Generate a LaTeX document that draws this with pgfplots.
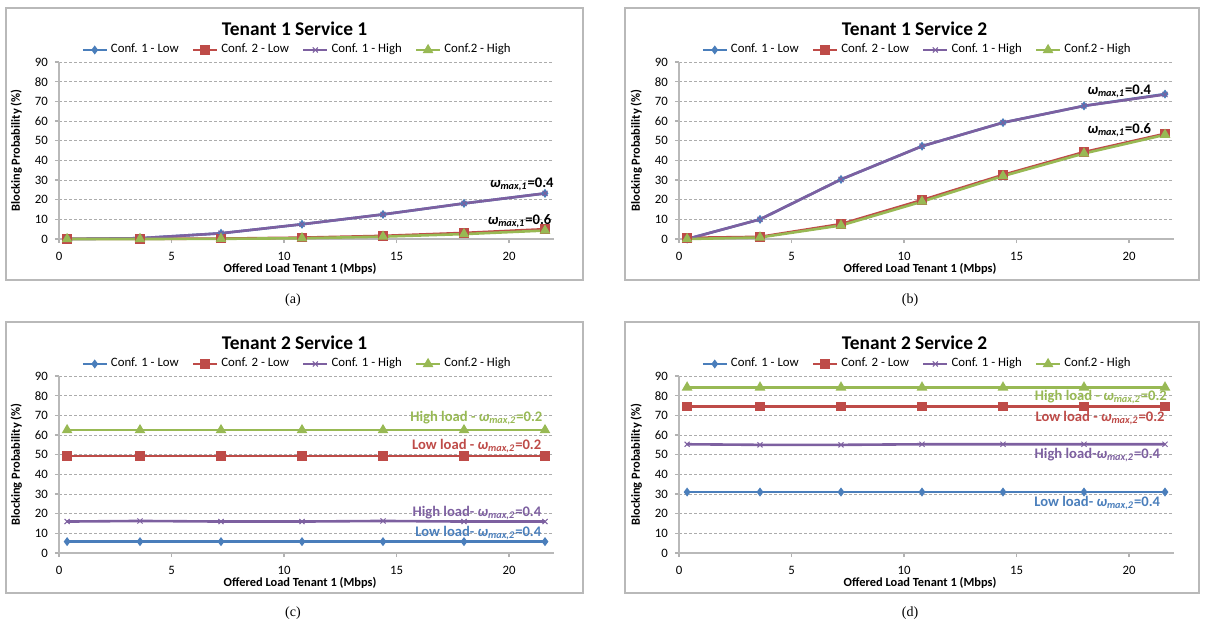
\documentclass[border=0pt]{standalone}
\usepackage{fontspec}
\setmainfont{Carlito}
\newfontfamily\capfont{Liberation Serif}
\usepackage{pgfplots}
\pgfplotsset{compat=1.18}
\definecolor{cblue}{HTML}{4A7EBB}
\definecolor{cred}{HTML}{BE4B48}
\definecolor{cpurple}{HTML}{7D60A0}
\definecolor{cgreen}{HTML}{98B954}
\newcommand{\om}[1]{\textit{ω}\textsubscript{\textit{max,#1}}}
\tikzset{ann/.style={font=\fontsize{7.3}{8}\selectfont\bfseries, anchor=east, inner sep=0pt},
  ttl/.style={font=\fontsize{9.7}{11}\selectfont\bfseries, anchor=center, inner sep=0pt}}
\pgfplotsset{
  myax/.style={
    scale only axis, width=247.5pt, height=88.5pt,
    anchor=south west,
    xmin=0, xmax=22, ymin=0, ymax=90,
    xtick={0,5,...,20}, ytick={0,10,...,90},
    axis x line*=bottom, axis y line*=left,
    axis line style={gray!55,-,line width=0.7pt},
    tick style={gray!60,line width=0.6pt},
    tick align=outside, major tick length=2pt,
    ymajorgrids, grid style={gray!65, dash pattern=on 1.5pt off 1pt, line width=0.4pt},
    ticklabel style={font=\fontsize{6.4}{7}\selectfont},
    xticklabel style={yshift=-1pt},
    /pgf/number format/assume math mode=true,
    xlabel={Offered Load Tenant 1 (Mbps)},
    ylabel={Blocking Probability (\%)},
    label style={font=\fontsize{6.2}{7}\selectfont\bfseries},
    xlabel style={at={(axis description cs:0.487,-0.17)}, anchor=center},
    ylabel style={at={(axis description cs:-0.086,0.5)}, anchor=center},
    legend columns=4,
    legend style={draw=none, fill=none, at={(axis description cs:0.482,1.068)}, anchor=center,
      font=\fontsize{6.4}{7}\selectfont, /tikz/every even column/.append style={column sep=5pt},
      /tikz/every odd column/.append style={column sep=0pt}, nodes={inner xsep=1.5pt}},
    legend image code/.code={\draw[mark repeat=2,mark phase=2] plot coordinates {(0cm,0cm) (0.21cm,0cm) (0.42cm,0cm)};},
    clip=false,
    every axis plot/.append style={line width=1.3pt},
  },
  sb/.style={cblue, mark=diamond*, mark size=1.2pt, mark options={solid}},
  sr/.style={cred, mark=square*, mark size=1.7pt},
  sp/.style={cpurple, mark=x, mark size=1.8pt, mark options={line width=0.5pt}},
  sg/.style={cgreen, mark=triangle*, mark size=1.8pt},
}
\begin{document}
\begin{tikzpicture}
\useasboundingbox (0,0) rectangle (603pt,-311.5pt);
% frames
\draw[gray!55, line width=0.6pt] (3pt,-4pt) rectangle (291.5pt,-140pt);
\draw[gray!55, line width=0.6pt] (312.5pt,-4pt) rectangle (599.5pt,-140pt);
\draw[gray!55, line width=0.6pt] (3pt,-161pt) rectangle (291.5pt,-296.5pt);
\draw[gray!55, line width=0.6pt] (312.5pt,-161pt) rectangle (599.5pt,-296.5pt);
% captions
\node[font=\capfont\fontsize{7}{8}\selectfont] at (146.5pt,-150pt) {(a)};
\node[font=\capfont\fontsize{7}{8}\selectfont] at (455pt,-150pt) {(b)};
\node[font=\capfont\fontsize{7}{8}\selectfont] at (146.5pt,-306.5pt) {(c)};
\node[font=\capfont\fontsize{7}{8}\selectfont] at (455pt,-306.5pt) {(d)};

% (a)
\begin{axis}[myax, at={(29.5pt,-119.5pt)}]
\addplot[sb] coordinates {(0.36,0) (3.6,0.4) (7.2,2.9) (10.8,7.5) (14.4,12.5) (18,18.1) (21.6,23.2)};
\addlegendentry{Conf. 1 - Low}
\addplot[sr] coordinates {(0.36,0.1) (3.6,0.1) (7.2,0.2) (10.8,0.7) (14.4,1.6) (18,3.1) (21.6,5.0)};
\addlegendentry{Conf. 2 - Low}
\addplot[sp] coordinates {(0.36,0) (3.6,0.4) (7.2,2.9) (10.8,7.5) (14.4,12.5) (18,18.1) (21.6,23.2)};
\addlegendentry{Conf. 1 - High}
\addplot[sg] coordinates {(0.36,0) (3.6,0) (7.2,0.1) (10.8,0.4) (14.4,1.2) (18,2.5) (21.6,4.3)};
\addlegendentry{Conf.2 - High}
\node[ttl] at (axis description cs:0.476,1.186) {Tenant 1 Service 1};
\node[ann] at (axis cs:22.0,27.8) {\om{1}=0.4};
\node[ann] at (axis cs:21.9,9.3) {\om{1}=0.6};
\end{axis}

% (b)
\begin{axis}[myax, at={(339.5pt,-119.5pt)}]
\addplot[sb] coordinates {(0.36,0) (3.6,10) (7.2,30.3) (10.8,47.2) (14.4,59.2) (18,67.7) (21.6,73.7)};
\addlegendentry{Conf. 1 - Low}
\addplot[sr] coordinates {(0.36,0.6) (3.6,1.1) (7.2,7.6) (10.8,19.8) (14.4,32.6) (18,44.2) (21.6,53.5)};
\addlegendentry{Conf. 2 - Low}
\addplot[sp] coordinates {(0.36,0) (3.6,10) (7.2,30.3) (10.8,47.2) (14.4,59.2) (18,67.7) (21.6,73.5)};
\addlegendentry{Conf. 1 - High}
\addplot[sg] coordinates {(0.36,0) (3.6,0.8) (7.2,6.9) (10.8,19) (14.4,32) (18,43.5) (21.6,53)};
\addlegendentry{Conf.2 - High}
\node[ttl] at (axis description cs:0.476,1.186) {Tenant 1 Service 2};
\node[ann] at (axis cs:21.0,75.3) {\om{1}=0.4};
\node[ann] at (axis cs:21.0,55.2) {\om{1}=0.6};
\end{axis}

% (c)
\begin{axis}[myax, at={(29.5pt,-276.5pt)}]
\addplot[sb] coordinates {(0.36,5.8) (3.6,5.8) (7.2,5.8) (10.8,5.8) (14.4,5.8) (18,5.8) (21.6,5.8)};
\addlegendentry{Conf. 1 - Low}
\addplot[sr] coordinates {(0.36,49.3) (3.6,49.3) (7.2,49.3) (10.8,49.3) (14.4,49.3) (18,49.3) (21.6,49.3)};
\addlegendentry{Conf. 2 - Low}
\addplot[sp] coordinates {(0.36,16.0) (3.6,16.3) (7.2,16.0) (10.8,16.0) (14.4,16.3) (18,16.0) (21.6,16.0)};
\addlegendentry{Conf. 1 - High}
\addplot[sg] coordinates {(0.36,62.5) (3.6,62.5) (7.2,62.5) (10.8,62.5) (14.4,62.5) (18,62.5) (21.6,62.5)};
\addlegendentry{Conf.2 - High}
\node[ttl] at (axis description cs:0.476,1.186) {Tenant 2 Service 1};
\node[ann, text=cgreen] at (axis cs:21.5,68.5) {High load - \om{2}=0.2};
\node[ann, text=cred] at (axis cs:21.45,54.6) {Low load - \om{2}=0.2};
\node[ann, text=cpurple] at (axis cs:21.45,20.3) {High load- \om{2}=0.4};
\node[ann, text=cblue] at (axis cs:21.45,10.2) {Low load- \om{2}=0.4};
\end{axis}

% (d)
\begin{axis}[myax, at={(339.5pt,-276.5pt)}]
\addplot[sb] coordinates {(0.36,31.0) (3.6,31.0) (7.2,31.0) (10.8,31.0) (14.4,31.0) (18,31.0) (21.6,31.0)};
\addlegendentry{Conf. 1 - Low}
\addplot[sr] coordinates {(0.36,74.5) (3.6,74.5) (7.2,74.5) (10.8,74.5) (14.4,74.5) (18,74.5) (21.6,74.5)};
\addlegendentry{Conf. 2 - Low}
\addplot[sp] coordinates {(0.36,55.3) (3.6,55.0) (7.2,55.0) (10.8,55.3) (14.4,55.3) (18,55.3) (21.6,55.3)};
\addlegendentry{Conf. 1 - High}
\addplot[sg] coordinates {(0.36,84.2) (3.6,84.2) (7.2,84.2) (10.8,84.2) (14.4,84.2) (18,84.2) (21.6,84.2)};
\addlegendentry{Conf.2 - High}
\node[ttl] at (axis description cs:0.476,1.186) {Tenant 2 Service 2};
\node[ann, text=cgreen] at (axis cs:21.7,79.2) {High load - \om{2}=0.2};
\node[ann, text=cred] at (axis cs:21.6,68.5) {Low load - \om{2}=0.2};
\node[ann, text=cpurple] at (axis cs:21.4,49.6) {High load-\om{2}=0.4};
\node[ann, text=cblue] at (axis cs:21.4,25.4) {Low load- \om{2}=0.4};
\end{axis}
\end{tikzpicture}
\end{document}
